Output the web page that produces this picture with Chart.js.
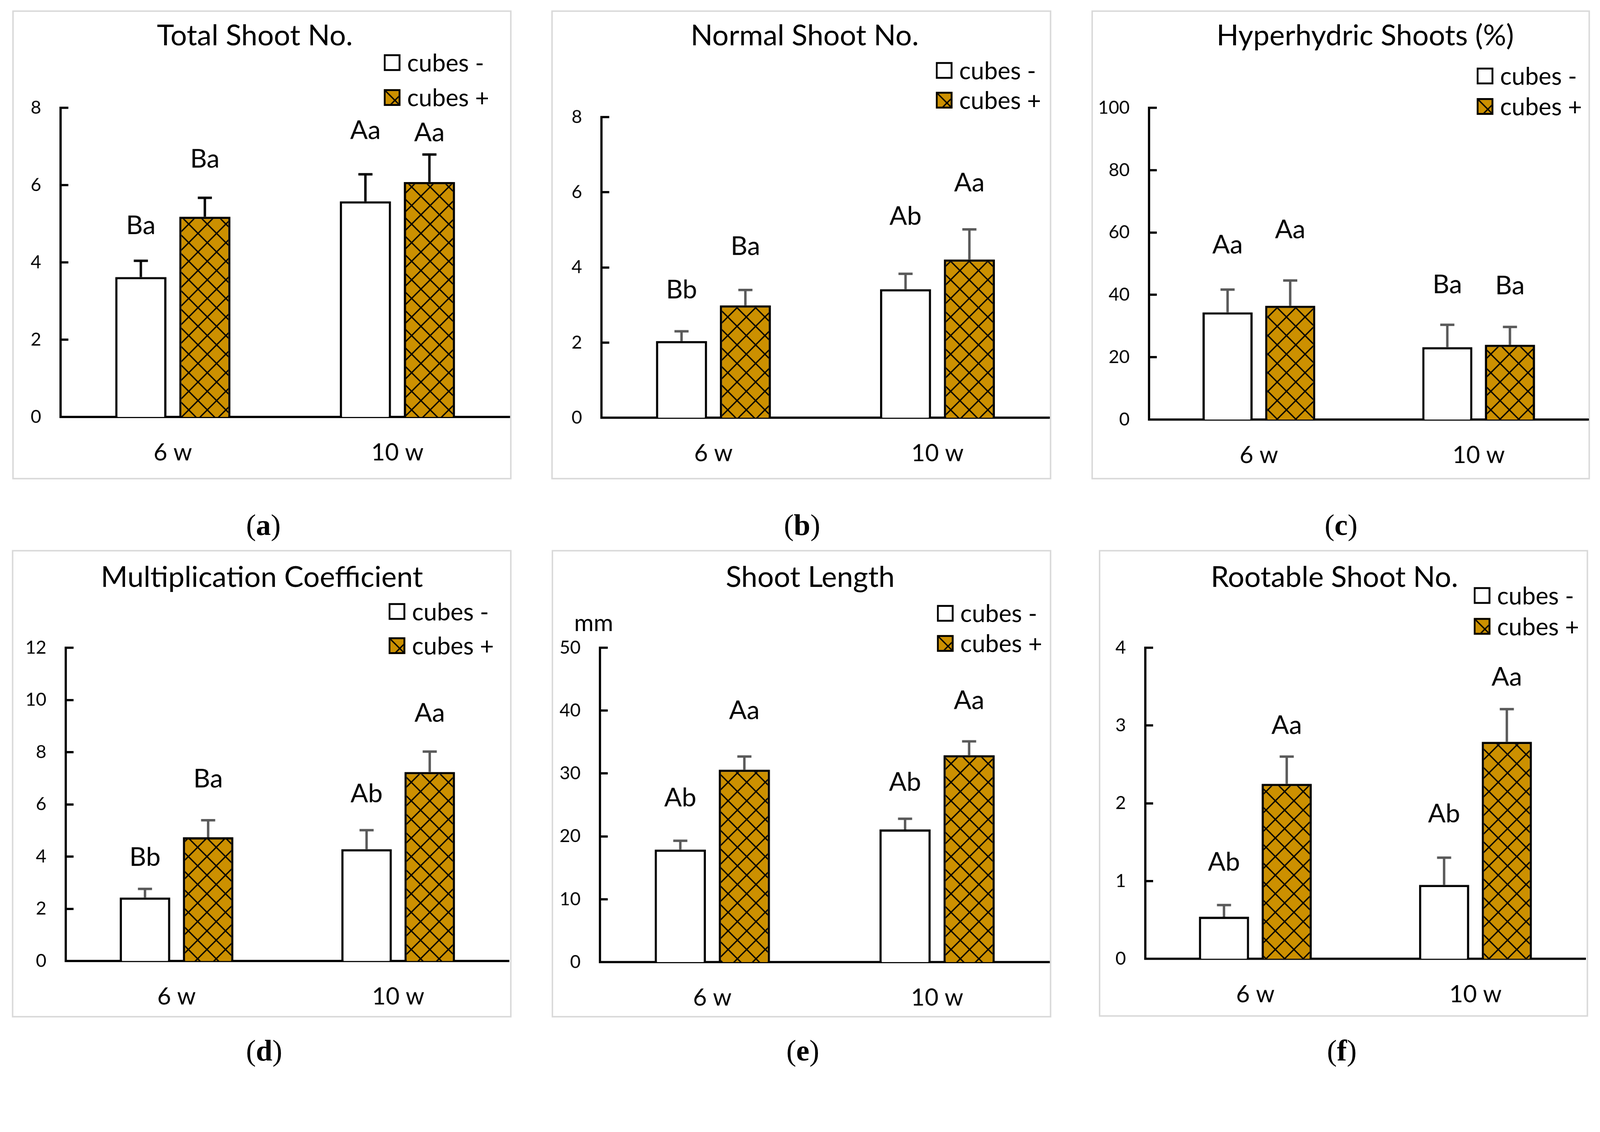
<!DOCTYPE html>
<html>
<head>
<meta charset="utf-8">
<script src="https://cdn.jsdelivr.net/npm/chart.js@4.4.1/dist/chart.umd.min.js"></script>
<style>
  html, body { margin: 0; padding: 0; background: #fff; overflow: hidden; }
  #page { position: relative; width: 4307px; height: 2897px; overflow: hidden; font-family: Lato, sans-serif; color: #000; transform-origin: 0 0; }
  .frame { position: absolute; box-sizing: border-box; border: 4px solid #d9d9d9; }
  canvas { position: absolute; }
  .c { position: absolute; transform: translate(-50%, -50%); line-height: 1; white-space: nowrap; }
  .title { font-size: 78px; }
  .lg { position: absolute; transform: translateY(-50%); line-height: 1; white-space: nowrap; font-size: 65px; }
  .sw { position: absolute; box-sizing: border-box; width: 45px; height: 45px; border: 5px solid #000; background: #fff; }
  .unit { font-size: 64px; }
  .tag { font-family: "Liberation Serif", serif; font-size: 80px; }
</style>
</head>
<body>
<div id="page"></div>
<script>
const weeks = ['6 w', '10 w'];
const groups = ['cubes -', 'cubes +'];

// (a) Total Shoot No.
const totalTicks = [0, 2, 4, 6, 8];
const totalMinus = [3.62, 5.58];
const totalPlus = [5.18, 6.08];
const totalErrMinus = [0.42, 0.70];
const totalErrPlus = [0.49, 0.71];
const totalLetters = [['Ba', 'Aa'], ['Ba', 'Aa']];

// (b) Normal Shoot No.
const normalTicks = [0, 2, 4, 6, 8];
const normalMinus = [2.04, 3.42];
const normalPlus = [2.99, 4.21];
const normalErrMinus = [0.26, 0.41];
const normalErrPlus = [0.41, 0.80];
const normalLetters = [['Bb', 'Ab'], ['Ba', 'Aa']];

// (c) Hyperhydric Shoots (%)
const hyperTicks = [0, 20, 40, 60, 80, 100];
const hyperMinus = [34.4, 23.2];
const hyperPlus = [36.5, 24.0];
const hyperErrMinus = [7.3, 7.2];
const hyperErrPlus = [8.1, 5.7];
const hyperLetters = [['Aa', 'Ba'], ['Aa', 'Ba']];

// (d) Multiplication Coefficient
const multTicks = [0, 2, 4, 6, 8, 10, 12];
const multMinus = [2.43, 4.28];
const multPlus = [4.74, 7.24];
const multErrMinus = [0.33, 0.73];
const multErrPlus = [0.65, 0.78];
const multLetters = [['Bb', 'Ab'], ['Ba', 'Aa']];

// (e) Shoot Length, mm
const lengthTicks = [0, 10, 20, 30, 40, 50];
const lengthMinus = [17.9, 21.1];
const lengthPlus = [30.6, 32.9];
const lengthErrMinus = [1.4, 1.7];
const lengthErrPlus = [2.1, 2.2];
const lengthLetters = [['Ab', 'Ab'], ['Aa', 'Aa']];

// (f) Rootable Shoot No.
const rootTicks = [0, 1, 2, 3, 4];
const rootMinus = [0.54, 0.95];
const rootPlus = [2.25, 2.79];
const rootErrMinus = [0.15, 0.35];
const rootErrPlus = [0.35, 0.42];
const rootLetters = [['Ab', 'Ab'], ['Aa', 'Aa']];

const gold = '#cc9000';

// layout of each panel in page pixels; tagAt = height (data units) of the letter labels
const panels = [
  { tag: 'a', title: 'Total Shoot No.', ticks: totalTicks, minus: totalMinus, plus: totalPlus,
    errMinus: totalErrMinus, errPlus: totalErrPlus, letters: totalLetters, errColor: '#000',
    tagAt: [[4.95, 7.41], [6.67, 7.35]],
    box: [33, 28, 1377, 1290], axisX: 163, yTop: 290, y0: 1122, xRight: 1372,
    titleX: 686, titleY: 92, legendX: 1033, legendY: [168, 262], labelX: 709, labelY: 1412 },
  { tag: 'b', title: 'Normal Shoot No.', ticks: normalTicks, minus: normalMinus, plus: normalPlus,
    errMinus: normalErrMinus, errPlus: normalErrPlus, letters: normalLetters, errColor: '#595959',
    tagAt: [[3.40, 5.36], [4.55, 6.25]],
    box: [1484, 28, 2830, 1290], axisX: 1619, yTop: 315, y0: 1124, xRight: 2825,
    titleX: 2166, titleY: 92, legendX: 2519, legendY: [189, 269], labelX: 2159, labelY: 1412 },
  { tag: 'c', title: 'Hyperhydric Shoots (%)', ticks: hyperTicks, minus: hyperMinus, plus: hyperPlus,
    errMinus: hyperErrMinus, errPlus: hyperErrPlus, letters: hyperLetters, errColor: '#595959',
    tagAt: [[56.0, 43.2], [60.9, 42.9]],
    box: [2938, 28, 4280, 1290], axisX: 3093, yTop: 290, y0: 1129, xRight: 4276,
    titleX: 3675, titleY: 92, legendX: 3975, legendY: [204, 286], labelX: 3610, labelY: 1412 },
  { tag: 'd', title: 'Multiplication Coefficient', ticks: multTicks, minus: multMinus, plus: multPlus,
    errMinus: multErrMinus, errPlus: multErrPlus, letters: multLetters, errColor: '#595959',
    tagAt: [[3.96, 6.40], [6.97, 9.49]],
    box: [32, 1480, 1377, 2738], axisX: 177, yTop: 1743, y0: 2586, xRight: 1370,
    titleX: 705, titleY: 1549, legendX: 1046, legendY: [1645, 1737], labelX: 711, labelY: 2827 },
  { tag: 'e', title: 'Shoot Length', ticks: lengthTicks, minus: lengthMinus, plus: lengthPlus,
    errMinus: lengthErrMinus, errPlus: lengthErrPlus, letters: lengthLetters, errColor: '#595959',
    tagAt: [[26.1, 28.6], [40.0, 41.6]], unit: 'mm', unitX: 1598, unitY: 1674,
    box: [1485, 1480, 2830, 2738], axisX: 1615, yTop: 1743, y0: 2589, xRight: 2825,
    titleX: 2181, titleY: 1549, legendX: 2522, legendY: [1650, 1731], labelX: 2161, labelY: 2827 },
  { tag: 'f', title: 'Rootable Shoot No.', ticks: rootTicks, minus: rootMinus, plus: rootPlus,
    errMinus: rootErrMinus, errPlus: rootErrPlus, letters: rootLetters, errColor: '#595959',
    tagAt: [[1.24, 1.86], [3.00, 3.62]],
    box: [2958, 1480, 4275, 2736], axisX: 3083, yTop: 1743, y0: 2580, xRight: 4268,
    titleX: 3592, titleY: 1549, legendX: 3967, legendY: [1602, 1685], labelX: 3612, labelY: 2827 }
];

function makeHatch() {
  const c = document.createElement('canvas');
  c.width = 50; c.height = 50;
  const g = c.getContext('2d');
  g.fillStyle = gold;
  g.fillRect(0, 0, 50, 50);
  g.strokeStyle = '#000';
  g.lineWidth = 3.5;
  for (let k = -1; k <= 1; k++) {
    g.beginPath(); g.moveTo(k * 50, 0); g.lineTo(k * 50 + 50, 50); g.stroke();
    g.beginPath(); g.moveTo(k * 50 + 50, 0); g.lineTo(k * 50, 50); g.stroke();
  }
  return c;
}
const hatchTile = makeHatch();

// inward y ticks, error bars (upper half only) and the letter labels
const extras = {
  id: 'extras',
  afterDatasetsDraw(chart) {
    const { ctx, chartArea } = chart;
    const y = chart.scales.y;
    ctx.save();
    ctx.strokeStyle = '#000';
    ctx.lineWidth = 6;
    y.ticks.forEach(t => {
      const py = Math.round(y.getPixelForValue(t.value));
      ctx.beginPath();
      ctx.moveTo(chartArea.left, py);
      ctx.lineTo(chartArea.left + 21, py);
      ctx.stroke();
    });
    chart.data.datasets.forEach((ds, di) => {
      chart.getDatasetMeta(di).data.forEach((bar, i) => {
        const top = y.getPixelForValue(ds.data[i] + ds.err[i]);
        ctx.strokeStyle = ds.errColor;
        ctx.lineWidth = 6.5;
        ctx.beginPath();
        ctx.moveTo(bar.x, bar.y);
        ctx.lineTo(bar.x, top);
        ctx.moveTo(bar.x - 19, top);
        ctx.lineTo(bar.x + 19, top);
        ctx.stroke();
        ctx.fillStyle = '#000';
        ctx.font = '70px Lato';
        ctx.textAlign = 'center';
        ctx.textBaseline = 'middle';
        ctx.fillText(ds.letters[i], bar.x, y.getPixelForValue(ds.tagAt[i]));
      });
    });
    ctx.restore();
  }
};

const page = document.getElementById('page');
const fit = Math.min(window.innerWidth / 4307, window.innerHeight / 2897);
page.style.transform = 'scale(' + fit + ')';

function addText(cls, text, x, y) {
  const d = document.createElement('div');
  d.className = cls;
  d.textContent = text;
  d.style.left = x + 'px';
  d.style.top = y + 'px';
  page.appendChild(d);
  return d;
}

panels.forEach(p => {
  const [left, top, right, bottom] = p.box;
  const w = right - left, h = bottom - top;

  const frame = document.createElement('div');
  frame.className = 'frame';
  Object.assign(frame.style, { left: left + 'px', top: top + 'px', width: w + 'px', height: h + 'px' });
  page.appendChild(frame);

  const canvas = document.createElement('canvas');
  canvas.width = w; canvas.height = h;
  canvas.style.left = left + 'px';
  canvas.style.top = top + 'px';
  page.appendChild(canvas);

  const pattern = canvas.getContext('2d').createPattern(hatchTile, 'repeat');
  const barStyle = { borderColor: '#000', borderWidth: 6, categoryPercentage: 0.57, barPercentage: 0.8, errColor: p.errColor };

  new Chart(canvas, {
    type: 'bar',
    data: {
      labels: weeks,
      datasets: [
        Object.assign({ label: groups[0], data: p.minus, err: p.errMinus, letters: p.letters[0], tagAt: p.tagAt[0], backgroundColor: '#fff' }, barStyle),
        Object.assign({ label: groups[1], data: p.plus, err: p.errPlus, letters: p.letters[1], tagAt: p.tagAt[1], backgroundColor: pattern }, barStyle)
      ]
    },
    options: {
      responsive: false,
      animation: false,
      devicePixelRatio: 1,
      layout: { padding: { left: 0, top: p.yTop - top, right: right - p.xRight, bottom: 0 } },
      plugins: { legend: { display: false }, tooltip: { enabled: false } },
      scales: {
        x: {
          grid: { display: false, drawTicks: false },
          border: { color: '#000', width: 6 },
          ticks: { color: '#000', font: { family: 'Lato', size: 64 }, padding: 58 },
          afterFit(s) { s.height = bottom - p.y0; }
        },
        y: {
          min: p.ticks[0],
          max: p.ticks[p.ticks.length - 1],
          afterBuildTicks(s) { s.ticks = p.ticks.map(v => ({ value: v })); },
          grid: { display: false, drawTicks: false },
          border: { color: '#000', width: 6 },
          ticks: { color: '#000', font: { family: 'Lato', size: 49 }, padding: 52 },
          afterFit(s) { s.width = p.axisX - left; }
        }
      }
    },
    plugins: [extras]
  });

  addText('c title', p.title, p.titleX, p.titleY);
  if (p.unit) addText('c unit', p.unit, p.unitX, p.unitY);

  groups.forEach((g, i) => {
    const sw = document.createElement('div');
    sw.className = 'sw';
    sw.style.left = p.legendX + 'px';
    sw.style.top = (p.legendY[i] - 22.5) + 'px';
    if (i === 1) {
      sw.style.backgroundColor = gold;
      sw.style.backgroundImage = 'url(' + hatchTile.toDataURL() + ')';
    }
    page.appendChild(sw);
    addText('lg', g, p.legendX + 63, p.legendY[i]);
  });

  const lab = addText('c tag', '', p.labelX, p.labelY);
  lab.innerHTML = '(<b>' + p.tag + '</b>)';
});
</script>
</body>
</html>
